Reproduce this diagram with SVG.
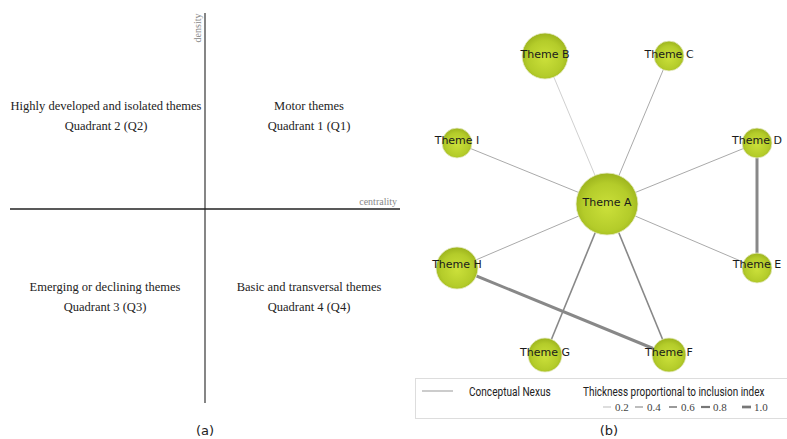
<svg xmlns="http://www.w3.org/2000/svg" width="787" height="439" viewBox="0 0 787 439">
<defs>
<radialGradient id="g" cx="50%" cy="55%" r="55%">
<stop offset="0" stop-color="#cbe03a"/>
<stop offset="0.7" stop-color="#b4cc2a"/>
<stop offset="1" stop-color="#9cb31d"/>
</radialGradient>
<style>
.q{font-family:"Liberation Serif",serif;font-size:12.5px;fill:#222;text-anchor:middle}
.ax{font-family:"Liberation Serif",serif;font-size:10px;fill:#888}
.cap{font-family:"DejaVu Sans",sans-serif;font-size:13px;fill:#222;text-anchor:middle}
.node circle{fill:url(#g);stroke:#e8eccc;stroke-width:0.8}
.node text{font-family:"DejaVu Sans",sans-serif;font-size:11px;fill:#1a1a1a;text-anchor:middle}
.lg{font-family:Roboto,sans-serif;font-size:12px;fill:#222}
.num{font-family:"Liberation Serif",serif;font-size:11px;fill:#444}
</style>
</defs>
<rect width="787" height="439" fill="#fff"/>
<g id="panel-a">
<line x1="205" y1="13" x2="205" y2="403" stroke="#444" stroke-width="1.3"/>
<line x1="10" y1="209" x2="400" y2="209" stroke="#222" stroke-width="1.3"/>
<text class="ax" transform="translate(201,28) rotate(-90)" text-anchor="middle">density</text>
<text class="ax" x="397" y="205" text-anchor="end">centrality</text>
<text class="q" x="106" y="110">Highly developed and isolated themes</text>
<text class="q" x="106" y="130">Quadrant 2 (Q2)</text>
<text class="q" x="309" y="110">Motor themes</text>
<text class="q" x="309" y="130">Quadrant 1 (Q1)</text>
<text class="q" x="105" y="291">Emerging or declining themes</text>
<text class="q" x="105" y="311">Quadrant 3 (Q3)</text>
<text class="q" x="309" y="291">Basic and transversal themes</text>
<text class="q" x="309" y="311">Quadrant 4 (Q4)</text>
<text class="cap" x="205" y="435">(a)</text>
</g>
<g id="connectors" fill="none">
<line x1="607" y1="204" x2="545" y2="56" stroke="#d0d0d0" stroke-width="1"/>
<line x1="607" y1="204" x2="669" y2="56" stroke="#aaa" stroke-width="1"/>
<line x1="607" y1="204" x2="457" y2="143" stroke="#aaa" stroke-width="1"/>
<line x1="607" y1="204" x2="757" y2="143" stroke="#aaa" stroke-width="1"/>
<line x1="607" y1="204" x2="757" y2="268" stroke="#aaa" stroke-width="1"/>
<line x1="607" y1="204" x2="457" y2="268" stroke="#aaa" stroke-width="1"/>
<line x1="607" y1="204" x2="545" y2="355" stroke="#888" stroke-width="1.6"/>
<line x1="607" y1="204" x2="669" y2="355" stroke="#888" stroke-width="1.6"/>
<line x1="757" y1="143" x2="757" y2="268" stroke="#888" stroke-width="3"/>
<line x1="457" y1="268" x2="669" y2="355" stroke="#888" stroke-width="3"/>
</g>
<g id="theme-b" class="node"><circle cx="545" cy="56" r="23"/><text x="545" y="58">Theme B</text></g>
<g id="theme-c" class="node"><circle cx="669" cy="56" r="15"/><text x="669" y="58">Theme C</text></g>
<g id="theme-i" class="node"><circle cx="457" cy="143" r="15"/><text x="457" y="144">Theme I</text></g>
<g id="theme-d" class="node"><circle cx="757" cy="143" r="15"/><text x="757" y="144">Theme D</text></g>
<g id="theme-a" class="node"><circle cx="607" cy="204" r="31"/><text x="607" y="206">Theme A</text></g>
<g id="theme-h" class="node"><circle cx="457" cy="268" r="21"/><text x="457" y="268">Theme H</text></g>
<g id="theme-e" class="node"><circle cx="757" cy="268" r="15"/><text x="757" y="268">Theme E</text></g>
<g id="theme-g" class="node"><circle cx="545" cy="355" r="17"/><text x="545" y="356">Theme G</text></g>
<g id="theme-f" class="node"><circle cx="669" cy="355" r="17"/><text x="669" y="356">Theme F</text></g>
<g id="legend">
<path d="M415 378.5 H787 M415 418.5 H787 M415.5 378 V419" stroke="#ddd" stroke-width="1" fill="none"/>
<line x1="422" y1="391" x2="453" y2="391" stroke="#999" stroke-width="1"/>
<text class="lg" transform="translate(469,396) scale(0.84,1)">Conceptual Nexus</text>
<text class="lg" transform="translate(583,396) scale(0.83,1)">Thickness proportional to inclusion index</text>
<line x1="603" y1="407" x2="611" y2="407" stroke="#bbb" stroke-width="1"/>
<text class="num" x="615" y="411">0.2</text>
<line x1="635" y1="407" x2="643" y2="407" stroke="#999" stroke-width="1.3"/>
<text class="num" x="647" y="411">0.4</text>
<line x1="669" y1="407" x2="677" y2="407" stroke="#888" stroke-width="1.7"/>
<text class="num" x="681" y="411">0.6</text>
<line x1="701" y1="407" x2="710" y2="407" stroke="#777" stroke-width="2.2"/>
<text class="num" x="713" y="411">0.8</text>
<line x1="742" y1="407" x2="751" y2="407" stroke="#777" stroke-width="2.7"/>
<text class="num" x="754" y="411">1.0</text>
</g>
<text class="cap" x="609" y="435">(b)</text>
</svg>
